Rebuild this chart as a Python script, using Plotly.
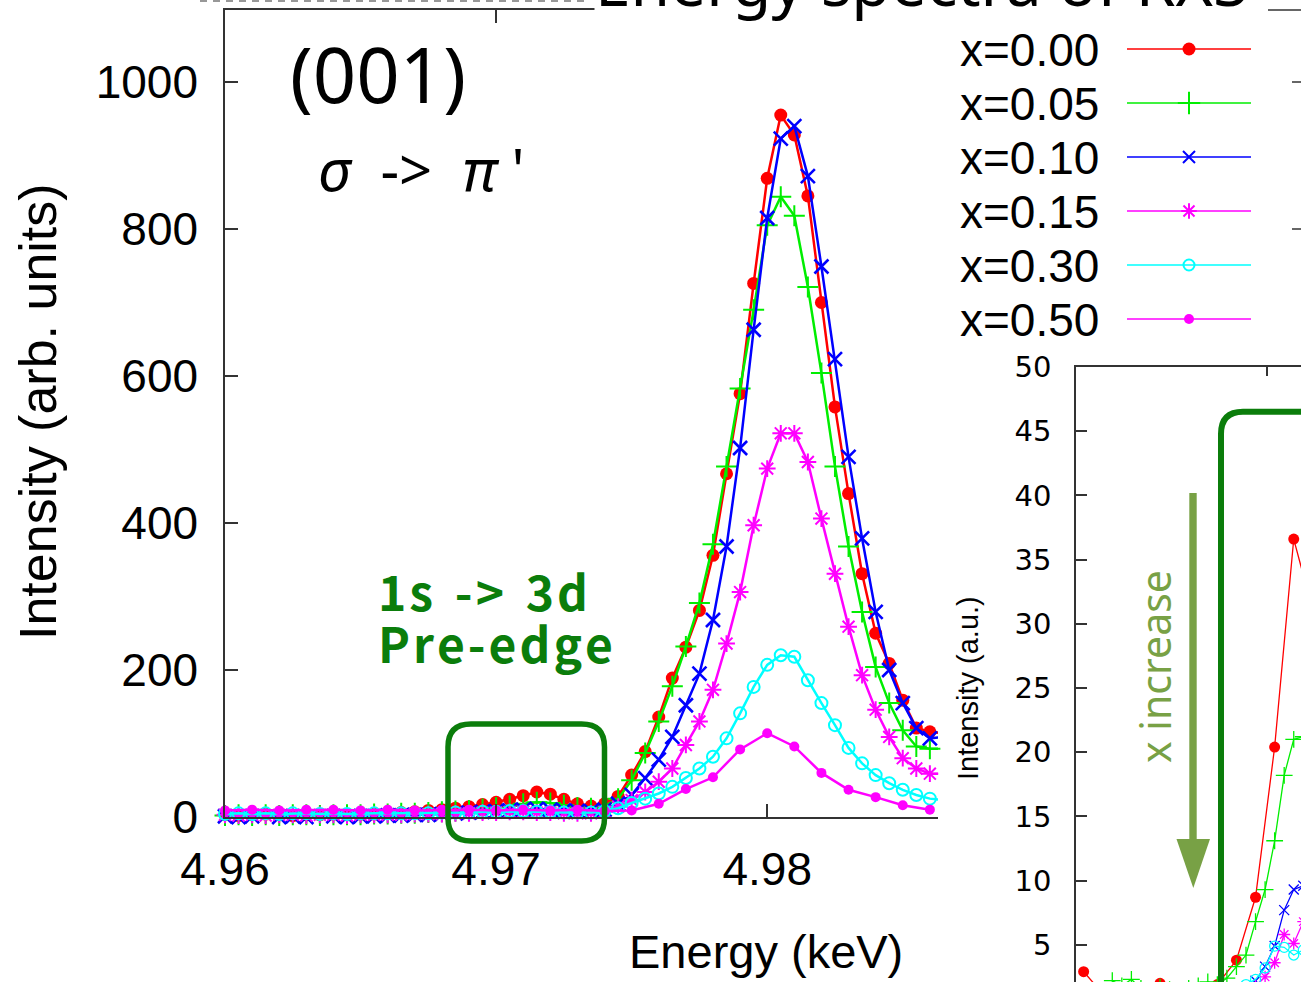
import plotly.graph_objects as go

W, H = 1301, 982

# ---------------- data ----------------
energy_keV = [4.9600, 4.9605, 4.9610, 4.9615, 4.9620, 4.9625, 4.9630, 4.9635, 4.9640, 4.9645,
              4.9650, 4.9655, 4.9660, 4.9665, 4.9670, 4.9675, 4.9680, 4.9685, 4.9690, 4.9695,
              4.9700, 4.9705, 4.9710, 4.9715, 4.9720, 4.9725, 4.9730, 4.9735, 4.9740, 4.9745,
              4.9750, 4.9755, 4.9760, 4.9765, 4.9770, 4.9775, 4.9780, 4.9785, 4.9790, 4.9795,
              4.9800, 4.9805, 4.9810, 4.9815, 4.9820, 4.9825, 4.9830, 4.9835, 4.9840, 4.9845,
              4.9850, 4.9855, 4.9860, 4.9865]

int_x000 = [3, 2, 3, 4, 3, 2, 3, 3, 4, 3, 4, 4, 5,
            6, 7, 9, 10, 12, 14, 17, 20, 24, 29, 34, 31, 24, 18, 15, 18,
            28, 57, 89, 136, 189, 231, 281, 356, 467, 576, 726, 869, 955, 928, 845, 700, 558,
            440, 331, 250, 209, 159, 121, 116, 114]
int_x005 = [2, 3, 2, 3, 2, 3, 3, 2, 3, 3, 3, 4, 4,
            5, 5, 6, 7, 8, 9, 11, 13, 15, 18, 20, 19, 16, 13, 12, 15,
            25, 50, 87, 130, 178, 232, 291, 371, 477, 583, 690, 805, 844, 818, 721, 604, 477,
            368, 279, 204, 155, 118, 96, 93, 93]
int_x010 = [1, 0, 1, -1, 0, 1, 0, -2, 1, 0, 1, 1, 2,
            2, 3, 3, 4, 5, 6, 7, 8, 9, 10, 11, 10, 9, 8, 8, 10,
            18, 30, 53, 78, 109, 152, 195, 268, 368, 502, 663, 815, 923, 940, 872, 749, 623,
            490, 379, 279, 200, 155, 121, 107, 109]
int_x015 = [3, 2, 3, 2, 3, 3, 2, 3, 3, 2, 3, 3, 3,
            3, 4, 4, 4, 5, 5, 6, 6, 7, 7, 6, 6, 5, 5, 5, 7,
            14, 23, 34, 48, 66, 98, 130, 173, 236, 306, 397, 474, 522, 522, 483, 406, 331,
            259, 193, 146, 109, 80, 66, 59, 59]
int_x030 = [4, 5, 4, 5, 4, 5, 5, 4, 5, 4, 5, 5, 5,
            5, 5, 5, 6, 6, 6, 7, 7, 8, 8, 7, 7, 6, 6, 6, 8,
            12, 19, 25, 32, 41, 53, 66, 82, 107, 141, 177, 207, 220, 218, 186, 155, 125,
            94, 73, 57, 46, 37, 30, 25, 23]

energy_x050 = [4.960, 4.961, 4.962, 4.963, 4.964, 4.965, 4.966, 4.967, 4.968, 4.969,
               4.970, 4.971, 4.972, 4.973, 4.974, 4.975, 4.976, 4.977, 4.978, 4.979,
               4.980, 4.981, 4.982, 4.983, 4.984, 4.985, 4.986]
int_x050 = [9, 10, 9, 10, 10, 9, 10, 9, 10, 10, 9, 10, 9, 10, 8, 9, 18, 38, 54, 92,
            114, 96, 60, 37, 27, 16, 10]

# inset (pre-edge close-up)
inset_E_x000 = [4.9652, 4.9657, 4.9662, 4.9667, 4.9672, 4.9677, 4.9682, 4.9687, 4.9692,
                4.9697, 4.9702, 4.9707, 4.9712]
inset_I_x000 = [2.9, 1.2, 1.0, 1.3, 2.0, 1.2, 1.0, 1.9, 3.8, 8.7, 20.4, 36.6, 31.0]
inset_E_x005 = [4.96595, 4.9662, 4.96645, 4.9667, 4.96695, 4.9672, 4.96745, 4.9677, 4.96795,
                4.9682, 4.96845, 4.9687, 4.96895, 4.9692, 4.96945, 4.9697, 4.96995, 4.9702,
                4.97045, 4.9707, 4.97095]
inset_I_x005 = [2.2, 1.8, 2.3, 1.6, 1.4, 1.7, 1.5, 1.3, 1.6, 1.8, 2.1, 1.9, 2.4, 3.3, 4.2,
                6.8, 9.3, 13.1, 18.2, 21.0, 21.2]
inset_E_x010 = [4.9672, 4.9677, 4.9682, 4.96845, 4.9687, 4.96895, 4.9692, 4.96945, 4.9697,
                4.96995, 4.9702, 4.97045, 4.9707, 4.97095]
inset_I_x010 = [0.8, 1.0, 0.9, 1.1, 1.0, 1.2, 1.4, 1.7, 2.2, 3.3, 4.9, 7.7, 9.3, 9.6]
inset_E_x015 = [4.9687, 4.96895, 4.9692, 4.96945, 4.9697, 4.96995, 4.9702, 4.97045, 4.9707,
                4.97095]
inset_I_x015 = [1.0, 1.1, 1.3, 1.5, 1.8, 2.5, 3.6, 5.8, 5.1, 6.8]
inset_E_x030 = [4.9687, 4.96895, 4.9692, 4.96945, 4.9697, 4.96995, 4.9702, 4.97045, 4.9707,
                4.97095]
inset_I_x030 = [1.0, 1.2, 1.5, 1.9, 2.3, 3.2, 4.9, 4.8, 4.2, 4.6]

series_labels = ["x=0.00", "x=0.05", "x=0.10", "x=0.15", "x=0.30", "x=0.50"]
main_tick_vals = [4.96, 4.97, 4.98]
main_tick_text = ["4.96", "4.97", "4.98"]
y_tick_vals = [0, 200, 400, 600, 800, 1000]
inset_y_ticks = [5, 10, 15, 20, 25, 30, 35, 40, 45, 50]

# ---------------- styles ----------------
styles = [
    dict(color="#ff0000", symbol="circle", size=13, lw=0),
    dict(color="#00ee00", symbol="cross-thin-open", size=15, lw=2),
    dict(color="#0000ff", symbol="x-thin-open", size=14, lw=2.6),
    dict(color="#ff00ff", symbol="asterisk-open", size=14, lw=2),
    dict(color="#00ffff", symbol="circle-open", size=12, lw=2),
    dict(color="#ff00ff", symbol="circle", size=10, lw=0),
]
inset_marker_size = [11, 12, 10, 10, 10]
GREEN = "#0b7d0b"
OLIVE = "#78a145"
AXC = "#333333"

main_series = [
    (energy_keV, int_x000), (energy_keV, int_x005), (energy_keV, int_x010),
    (energy_keV, int_x015), (energy_keV, int_x030), (energy_x050, int_x050),
]
inset_series = [
    (inset_E_x000, inset_I_x000), (inset_E_x005, inset_I_x005), (inset_E_x010, inset_I_x010),
    (inset_E_x015, inset_I_x015), (inset_E_x030, inset_I_x030),
]

X_RANGE = [4.960, 4.9863]
Y_RANGE = [0, 1098]
IX_RANGE = [4.965, 4.97089]
IY_RANGE = [2.1, 50]


def mk(st, size=None, lw=None):
    s = size if size is not None else st["size"]
    w = st["lw"] if lw is None else lw
    if st["symbol"] in ("circle",):
        return dict(symbol="circle", size=s, color=st["color"], line=dict(width=0))
    return dict(symbol=st["symbol"], size=s, color=st["color"],
                line=dict(color=st["color"], width=w))


fig = go.Figure()

# main plot
for (ex, iy), st in zip(main_series, styles):
    fig.add_trace(go.Scatter(x=ex, y=iy, mode="lines", xaxis="x", yaxis="y",
                             line=dict(color=st["color"], width=2.5), hoverinfo="skip"))
    keep = [k for k, e in enumerate(ex) if X_RANGE[0] - 1e-9 <= e <= X_RANGE[1]]
    fig.add_trace(go.Scatter(x=[ex[k] for k in keep], y=[iy[k] for k in keep],
                             mode="markers", xaxis="x", yaxis="y", cliponaxis=False,
                             marker=mk(st), hoverinfo="skip"))

# inset
for (ex, iy), st, ms in zip(inset_series, styles, inset_marker_size):
    fig.add_trace(go.Scatter(x=ex, y=iy, mode="lines+markers", xaxis="x2", yaxis="y2",
                             line=dict(color=st["color"], width=1.3),
                             marker=mk(st, size=ms, lw=1.3), hoverinfo="skip"))

# legend keys (layout positions in pixels on a hidden overlay axis)
LEG_TX, LEG_X0, LEG_XM, LEG_X1, LEG_Y0, LEG_DY = 958, 1127, 1189, 1251, 49, 54
leg_sizes = [13, 16, 12, 13, 11, 10]
for k, (lab, st) in enumerate(zip(series_labels, styles)):
    yk = LEG_Y0 + k * LEG_DY
    fig.add_trace(go.Scatter(x=[LEG_X0, LEG_X1], y=[yk, yk], mode="lines",
                             xaxis="x3", yaxis="y3", line=dict(color=st["color"], width=1.6),
                             hoverinfo="skip"))
    fig.add_trace(go.Scatter(x=[LEG_XM], y=[yk], mode="markers", xaxis="x3", yaxis="y3",
                             marker=mk(st, size=leg_sizes[k], lw=2), hoverinfo="skip"))

# ---------------- helpers for layout in pixels ----------------
def px(x):
    return x / W


def py(y):
    return 1 - y / H


def rrect(x0, y0, x1, y1, r):
    pts = [("M", x0 + r, y0), ("L", x1 - r, y0), ("Q", x1, y0, x1, y0 + r),
           ("L", x1, y1 - r), ("Q", x1, y1, x1 - r, y1), ("L", x0 + r, y1),
           ("Q", x0, y1, x0, y1 - r), ("L", x0, y0 + r), ("Q", x0, y0, x0 + r, y0)]
    out = []
    for p in pts:
        c = p[0]
        vals = p[1:]
        coords = []
        for i in range(0, len(vals), 2):
            coords.append(f"{px(vals[i]):.5f},{py(vals[i+1]):.5f}")
        out.append(c + " " + " ".join(coords))
    return " ".join(out) + " Z"


shapes = []
shapes.append(dict(type="path", xref="paper", yref="paper", path=rrect(448, 724, 604.5, 841, 23),
                   line=dict(color=GREEN, width=5.5)))
shapes.append(dict(type="path", xref="paper", yref="paper",
                   path=(f"M {px(1221):.5f},{py(1000):.5f} L {px(1221):.5f},{py(434):.5f} "
                         f"Q {px(1221):.5f},{py(411.7):.5f} {px(1243):.5f},{py(411.7):.5f} "
                         f"L {px(1320):.5f},{py(411.7):.5f}"),
                   line=dict(color=GREEN, width=6)))
shapes.append(dict(type="rect", xref="paper", yref="paper", x0=px(1189.3), x1=px(1196.7),
                   y0=py(842), y1=py(493), fillcolor=OLIVE, line=dict(width=0)))
shapes.append(dict(type="path", xref="paper", yref="paper",
                   path=(f"M {px(1176.5):.5f},{py(839):.5f} L {px(1210):.5f},{py(839):.5f} "
                         f"L {px(1193.3):.5f},{py(888):.5f} Z"),
                   fillcolor=OLIVE, line=dict(width=0)))
shapes.append(dict(type="line", xref="paper", yref="paper", x0=px(200), x1=px(590),
                   y0=py(1), y1=py(1), line=dict(color="#777777", width=1.5, dash="7px,6px")))
shapes.append(dict(type="line", xref="paper", yref="paper", x0=px(1268), x1=px(1301),
                   y0=py(10), y1=py(10), line=dict(color=AXC, width=1.5)))
for yy in (82, 229):
    shapes.append(dict(type="line", xref="paper", yref="paper", x0=px(1292), x1=px(1301),
                       y0=py(yy), y1=py(yy), line=dict(color=AXC, width=1.5)))

ann = []


def add_text(text, x, y, size, family="Liberation Sans, Arial", color="black",
             xanchor="center", yanchor="middle", angle=0, bg=None, weight=None):
    f = dict(size=size, family=family, color=color)
    if weight:
        f["weight"] = weight
    d = dict(text=text, x=px(x), y=py(y), xref="paper", yref="paper", showarrow=False,
             xanchor=xanchor, yanchor=yanchor, textangle=angle, font=f)
    if bg:
        d["bgcolor"] = bg
        d["borderpad"] = 0
    ann.append(d)


HS = "\u200a"  # hair space, mimics the wide letter spacing
add_text("Energy spectra of RXS", 921, -19, 64, family="Noto Sans", bg="white")
add_text("(001)", 378, 73, 76, family="Noto Sans")
add_text("<i>σ</i>  ->  <i>π</i> '", 422, 168, 58, family="Noto Sans")
add_text(f"1{HS}s  -{HS}>  3{HS}d", 376, 590, 48, family="Noto Sans CJK JP, Noto Sans",
         color=GREEN, xanchor="left", weight=600)
add_text(HS.join("Pre-edge"), 376, 642, 48, family="Noto Sans CJK JP, Noto Sans",
         color=GREEN, xanchor="left", weight=600)
add_text("Intensity (arb. units)", 38, 412, 52, angle=-90)
add_text("Energy (keV)", 766, 951, 47)
add_text("Intensity (a.u.)", 968, 688, 29, angle=-90)
add_text("x increase", 1155, 667, 41, family="Noto Sans", color=OLIVE, angle=-90)
for k, lab in enumerate(series_labels):
    add_text(lab, LEG_TX, LEG_Y0 + 1 + k * LEG_DY, 46, xanchor="left")

axis_common = dict(showgrid=False, zeroline=False, showline=True, linecolor=AXC, linewidth=1.5,
                   ticks="inside", tickcolor=AXC, tickwidth=1.5, automargin=False)

fig.update_layout(
    template="none",
    width=W, height=H, margin=dict(l=0, r=0, t=0, b=0, pad=0, autoexpand=False),
    paper_bgcolor="white", plot_bgcolor="rgba(0,0,0,0)", showlegend=False,
    xaxis=dict(domain=[px(225), px(938)], range=X_RANGE, anchor="y", mirror="ticks",
               tickvals=main_tick_vals, ticktext=main_tick_text, ticklen=13,
               tickfont=dict(size=46, family="Liberation Sans, Arial", color="black"),
               ticklabelstandoff=11, **axis_common),
    yaxis=dict(domain=[py(817), py(10)], range=Y_RANGE, anchor="x",
               tickvals=y_tick_vals, ticklen=13,
               tickfont=dict(size=46, family="Liberation Sans, Arial", color="black"),
               ticklabelstandoff=16, **axis_common),
    xaxis2=dict(domain=[px(1076), 1], range=IX_RANGE, anchor="y2", side="top",
                tickvals=[4.965, 4.970], ticklen=9, showticklabels=False, **axis_common),
    yaxis2=dict(domain=[0, py(367)], range=IY_RANGE, anchor="x2", tickvals=inset_y_ticks,
                ticklen=11, tickfont=dict(size=29, family="DejaVu Sans", color="black"),
                ticklabelstandoff=17, **axis_common),
    xaxis3=dict(domain=[0, 1], range=[0, W], anchor="y3", visible=False, fixedrange=True),
    yaxis3=dict(domain=[0, 1], range=[H, 0], anchor="x3", visible=False, fixedrange=True),
    shapes=shapes, annotations=ann,
)

fig.write_html("out.html", config={"displayModeBar": False},
               post_script="document.body.style.margin='0px';")
